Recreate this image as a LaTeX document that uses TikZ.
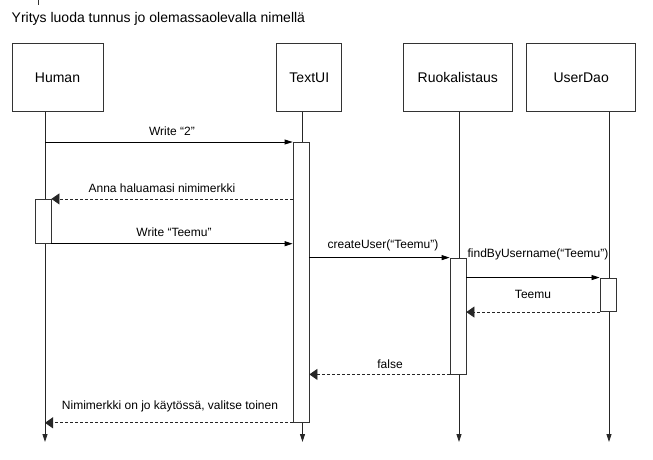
\documentclass[tikz,border=0pt]{standalone}
\usepackage{fontspec}
\setmainfont{Liberation Sans}
\usetikzlibrary{arrows.meta}
\tikzset{
    lifebox/.style={draw=black!80,line width=0.9pt,minimum height=68pt,inner sep=0pt,font=\fontsize{14}{16}\selectfont},
    actbox/.style={draw=black!80,line width=0.8pt,fill=white,minimum width=16pt,inner sep=0pt},
    lifeline/.style={draw=black!85,line width=0.8pt,-{Triangle[length=8pt,width=5pt]}},
    call/.style={draw=black,line width=0.8pt,-{Triangle[length=8pt,width=5pt]}},
    reply/.style={draw=black!85,line width=0.8pt,dash pattern=on 3pt off 2pt,-{Triangle[length=8pt,width=11pt]}},
    msg/.style={inner sep=0pt,font=\fontsize{12}{14}\selectfont}
}
\begin{document}
\begin{tikzpicture}[x=1pt,y=-1pt]
      \useasboundingbox (0,0) rectangle (653,459);
      \node[anchor=west,inner sep=0pt,font=\fontsize{14}{16}\selectfont] (title) at (11.5,19) {Yritys luoda tunnus jo olemassaolevalla nimellä};
      \coordinate (tickTop) at (38.5,0);
      \draw[black!80,line width=0.8pt] (tickTop) -- ++(0,5);
      \node[lifebox,minimum width=91pt] (human) at (57.5,77.5) {Human};
      \node[lifebox,minimum width=65pt] (textui) at (309.3,77.5) {TextUI};
      \node[lifebox,minimum width=109pt] (ruoka) at (457.8,77.5) {Ruokalistaus};
      \node[lifebox,minimum width=109pt] (userdao) at (581.2,77.5) {UserDao};
      \coordinate (hEnd) at (45,442);
      \coordinate (tEnd) at (302.5,442);
      \coordinate (rEnd) at (459,442);
      \coordinate (uEnd) at (609,442);
      \draw[lifeline] (human.south -| hEnd) -- (hEnd);
      \draw[lifeline] (textui.south -| tEnd) -- (tEnd);
      \draw[lifeline] (ruoka.south -| rEnd) -- (rEnd);
      \draw[lifeline] (userdao.south -| uEnd) -- (uEnd);
      \node[actbox,minimum height=44pt] (actH) at (43,221.3) {};
      \node[actbox,minimum height=280pt] (actT) at (301,282.4) {};
      \node[actbox,minimum height=116pt] (actR) at (458,316) {};
      \node[actbox,minimum width=16.7pt,minimum height=33.7pt] (actU) at (608.3,294.8) {};
      \draw[call] (hEnd |- actT.north) -- (actT.north west);
      \node[msg] (mWrite) at (172,131) {Write “2”};
      \draw[reply] (actT.west |- actH.north) -- (actH.north east);
      \node[msg] (mAnna) at (162,188) {Anna haluamasi nimimerkki};
      \draw[call] (actH.south east) -- (actT.west |- actH.south);
      \node[msg] (mTeemu) at (174,232) {Write “Teemu”};
      \draw[call] (actT.east |- actR.north) -- (actR.north west);
      \node[msg] (mCreate) at (383,245) {createUser(“Teemu”)};
      \draw[call] (actR.east |- actU.north) -- (actU.north west);
      \node[msg] (mFind) at (538,254) {findByUsername(“Teemu”)};
      \draw[reply] (actU.south west) -- (actR.east |- actU.south);
      \node[msg] (mUser) at (533,294) {Teemu};
      \draw[reply] (actR.south west) -- (actT.east |- actR.south);
      \node[msg] (mFalse) at (390,364) {false};
      \draw[reply] (actT.south west) -- (hEnd |- actT.south);
      \node[msg] (mTaken) at (170,406) {Nimimerkki on jo käytössä, valitse toinen};
\end{tikzpicture}
\end{document}
